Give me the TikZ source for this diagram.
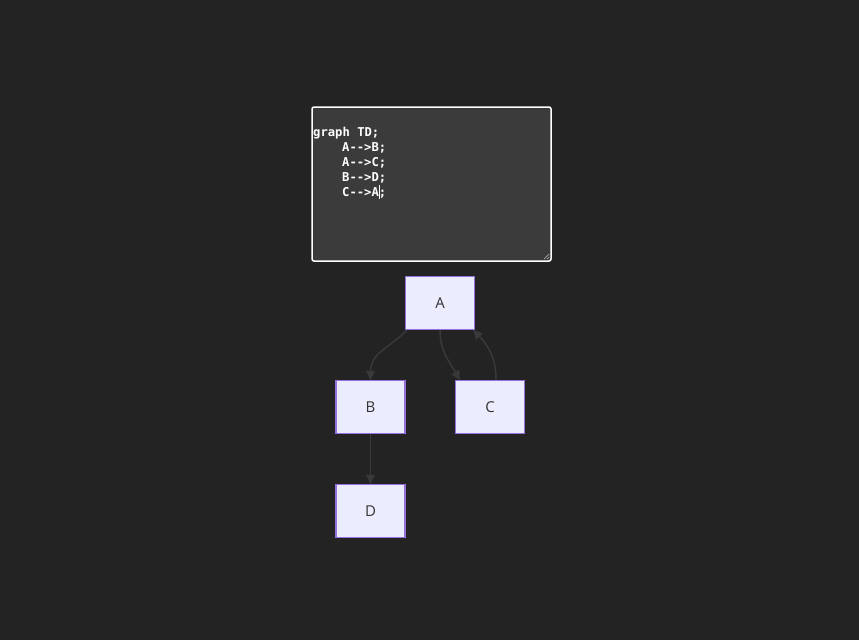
\documentclass[tikz,border=0pt]{standalone}
\usepackage{fontspec}
\setmonofont{DejaVu Sans Mono}
\newfontfamily\labelfont{Open Sans}
\usetikzlibrary{arrows.meta,positioning}
\definecolor{canvas}{HTML}{232323}
\definecolor{editor}{HTML}{3B3B3B}
\definecolor{nodefill}{HTML}{ECECFF}
\definecolor{nodeline}{HTML}{9370DB}
\definecolor{linkcol}{HTML}{393939}
\definecolor{labelcol}{HTML}{333333}

\begin{document}
\begin{tikzpicture}[x=1pt,y=-1pt,node distance=104pt,on grid,
    box/.style={draw=nodeline,fill=nodefill,line width=1.3pt,minimum width=69pt,minimum height=53pt,inner sep=0pt,text=labelcol,font=\labelfont\fontsize{15}{18}\selectfont},
    code/.style={anchor=base west,inner sep=0pt,text=white,font=\ttfamily\bfseries\fontsize{12.2}{15}\selectfont},
    link/.style={draw=linkcol,line width=1.5pt,-{Triangle[length=9pt,width=9pt]}}]
    \useasboundingbox[fill=canvas] (0,0) rectangle (859,640);
    % editor box
    \draw[draw=white,fill=editor,line width=1.5pt,rounded corners=2pt] (312,107) rectangle (551,261);
    \node[code](l_1) at (313,136.5){graph TD;};
    \node[code](l_2) at (342,151.5){A-{}->B;};
    \node[code](l_3) at (342,166.5){A-{}->C;};
    \node[code](l_4) at (342,181.5){B-{}->D;};
    \node[code](l_5) at (342,196.5){C-{}->A;};
    \draw[white,line width=0.8pt] (379.5,185) -- (379.5,199);
    \draw[gray!70,line width=0.7pt] (544,259) -- (549,254) (547,259) -- (549,257);
    % graph
    \node[box](A) at (440,303){A};
    \node[box](B)[below left=104pt and 69.5pt of A]{B};
    \node[box](C)[below right=104pt and 50pt of A]{C};
    \node[box](D)[below=of B]{D};
    \path
    ([xshift=2pt]A.south west) edge [link,out=-135,in=90,looseness=1.1] (B)
    (A.south) edge [link,out=-90,in=120] ([xshift=5pt]C.north west)
    ([xshift=6pt]C.north) edge [link,out=90,in=-45] ([xshift=-2pt]A.south east)
    (B) edge [link] (D);
\end{tikzpicture}
\end{document}
